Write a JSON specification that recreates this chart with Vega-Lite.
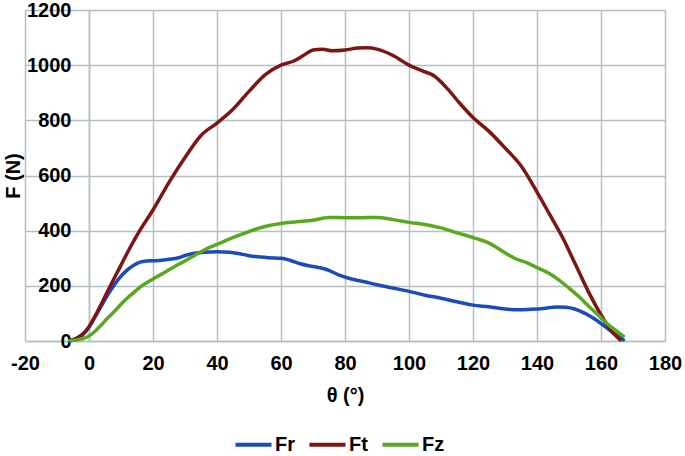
{
  "$schema": "https://vega.github.io/schema/vega-lite/v6.json",
  "width": 640,
  "height": 331,
  "autosize": "none",
  "padding": {"left": 25, "top": 10, "right": 20, "bottom": 115},
  "background": "white",
  "config": {
    "view": {"stroke": null},
    "font": "Liberation Sans"
  },
  "data": {"values": [
    {"s":"Fr","t":-6,"f":0},{"s":"Fr","t":-4,"f":8},{"s":"Fr","t":-2,"f":22},{"s":"Fr","t":0,"f":50},{"s":"Fr","t":2,"f":90},{"s":"Fr","t":4,"f":130},{"s":"Fr","t":6,"f":170},{"s":"Fr","t":8,"f":205},{"s":"Fr","t":10,"f":235},{"s":"Fr","t":12,"f":258},{"s":"Fr","t":14,"f":275},{"s":"Fr","t":16,"f":286},{"s":"Fr","t":18,"f":290},{"s":"Fr","t":20,"f":291},{"s":"Fr","t":22,"f":292},{"s":"Fr","t":25,"f":296},{"s":"Fr","t":28,"f":302},{"s":"Fr","t":30,"f":310},{"s":"Fr","t":33,"f":318},{"s":"Fr","t":36,"f":322},{"s":"Fr","t":40,"f":324},{"s":"Fr","t":44,"f":322},{"s":"Fr","t":48,"f":314},{"s":"Fr","t":52,"f":306},{"s":"Fr","t":56,"f":302},{"s":"Fr","t":60,"f":300},{"s":"Fr","t":63,"f":292},{"s":"Fr","t":66,"f":280},{"s":"Fr","t":70,"f":270},{"s":"Fr","t":74,"f":260},{"s":"Fr","t":78,"f":240},{"s":"Fr","t":82,"f":225},{"s":"Fr","t":86,"f":215},{"s":"Fr","t":90,"f":204},{"s":"Fr","t":95,"f":192},{"s":"Fr","t":100,"f":180},{"s":"Fr","t":105,"f":166},{"s":"Fr","t":110,"f":155},{"s":"Fr","t":115,"f":142},{"s":"Fr","t":120,"f":130},{"s":"Fr","t":125,"f":124},{"s":"Fr","t":130,"f":116},{"s":"Fr","t":134,"f":113},{"s":"Fr","t":138,"f":115},{"s":"Fr","t":142,"f":118},{"s":"Fr","t":146,"f":123},{"s":"Fr","t":149,"f":122},{"s":"Fr","t":152,"f":115},{"s":"Fr","t":155,"f":100},{"s":"Fr","t":158,"f":80},{"s":"Fr","t":161,"f":55},{"s":"Fr","t":164,"f":28},{"s":"Fr","t":167,"f":4},
    {"s":"Ft","t":-6,"f":3},{"s":"Ft","t":-4,"f":10},{"s":"Ft","t":-2,"f":25},{"s":"Ft","t":0,"f":52},{"s":"Ft","t":2,"f":92},{"s":"Ft","t":4,"f":138},{"s":"Ft","t":6,"f":185},{"s":"Ft","t":8,"f":230},{"s":"Ft","t":10,"f":275},{"s":"Ft","t":12,"f":320},{"s":"Ft","t":14,"f":363},{"s":"Ft","t":16,"f":403},{"s":"Ft","t":20,"f":475},{"s":"Ft","t":25,"f":575},{"s":"Ft","t":30,"f":665},{"s":"Ft","t":35,"f":745},{"s":"Ft","t":40,"f":790},{"s":"Ft","t":45,"f":840},{"s":"Ft","t":50,"f":905},{"s":"Ft","t":55,"f":965},{"s":"Ft","t":60,"f":1000},{"s":"Ft","t":64,"f":1015},{"s":"Ft","t":67,"f":1035},{"s":"Ft","t":70,"f":1055},{"s":"Ft","t":73,"f":1058},{"s":"Ft","t":76,"f":1052},{"s":"Ft","t":80,"f":1055},{"s":"Ft","t":84,"f":1062},{"s":"Ft","t":87,"f":1063},{"s":"Ft","t":90,"f":1058},{"s":"Ft","t":95,"f":1035},{"s":"Ft","t":100,"f":1000},{"s":"Ft","t":104,"f":980},{"s":"Ft","t":108,"f":960},{"s":"Ft","t":112,"f":915},{"s":"Ft","t":116,"f":860},{"s":"Ft","t":120,"f":810},{"s":"Ft","t":125,"f":760},{"s":"Ft","t":130,"f":700},{"s":"Ft","t":135,"f":635},{"s":"Ft","t":140,"f":540},{"s":"Ft","t":144,"f":458},{"s":"Ft","t":148,"f":375},{"s":"Ft","t":152,"f":278},{"s":"Ft","t":156,"f":180},{"s":"Ft","t":160,"f":95},{"s":"Ft","t":163,"f":40},{"s":"Ft","t":166,"f":4},
    {"s":"Fz","t":-6,"f":2},{"s":"Fz","t":-4,"f":4},{"s":"Fz","t":-2,"f":8},{"s":"Fz","t":0,"f":18},{"s":"Fz","t":2,"f":36},{"s":"Fz","t":4,"f":60},{"s":"Fz","t":6,"f":85},{"s":"Fz","t":8,"f":108},{"s":"Fz","t":10,"f":133},{"s":"Fz","t":12,"f":156},{"s":"Fz","t":14,"f":176},{"s":"Fz","t":16,"f":195},{"s":"Fz","t":18,"f":211},{"s":"Fz","t":20,"f":225},{"s":"Fz","t":22,"f":238},{"s":"Fz","t":25,"f":258},{"s":"Fz","t":28,"f":278},{"s":"Fz","t":30,"f":290},{"s":"Fz","t":33,"f":310},{"s":"Fz","t":36,"f":330},{"s":"Fz","t":40,"f":350},{"s":"Fz","t":44,"f":370},{"s":"Fz","t":48,"f":388},{"s":"Fz","t":52,"f":405},{"s":"Fz","t":56,"f":418},{"s":"Fz","t":60,"f":426},{"s":"Fz","t":65,"f":432},{"s":"Fz","t":70,"f":438},{"s":"Fz","t":75,"f":448},{"s":"Fz","t":80,"f":447},{"s":"Fz","t":85,"f":447},{"s":"Fz","t":90,"f":448},{"s":"Fz","t":95,"f":440},{"s":"Fz","t":100,"f":430},{"s":"Fz","t":105,"f":422},{"s":"Fz","t":110,"f":410},{"s":"Fz","t":115,"f":392},{"s":"Fz","t":120,"f":375},{"s":"Fz","t":125,"f":355},{"s":"Fz","t":130,"f":320},{"s":"Fz","t":133,"f":300},{"s":"Fz","t":137,"f":283},{"s":"Fz","t":140,"f":266},{"s":"Fz","t":144,"f":244},{"s":"Fz","t":147,"f":220},{"s":"Fz","t":150,"f":192},{"s":"Fz","t":153,"f":162},{"s":"Fz","t":156,"f":128},{"s":"Fz","t":159,"f":95},{"s":"Fz","t":162,"f":62},{"s":"Fz","t":165,"f":35},{"s":"Fz","t":167,"f":18}
  ]},
  "mark": {"type": "line", "interpolate": "monotone", "strokeWidth": 3.5, "strokeCap": "round"},
  "encoding": {
    "x": {
      "field": "t", "type": "quantitative", "title": "θ (°)",
      "scale": {"domain": [-20, 180], "nice": false, "zero": false},
      "axis": {
        "values": [-20, 0, 20, 40, 60, 80, 100, 120, 140, 160, 180],
        "labelExpr": "'' + datum.value",
        "grid": true, "gridColor": "#b4bfbf", "gridWidth": 1.5, "gridOpacity": 1,
        "domain": true, "domainColor": "#b4bfbf", "domainWidth": 1.5,
        "ticks": false, "labelPadding": 12,
        "labelFont": "Liberation Sans", "labelFontSize": 20, "labelFontWeight": "bold", "labelColor": "black",
        "labelFlush": false,
        "titleFont": "Liberation Sans", "titleFontSize": 20, "titleFontWeight": "bold", "titleColor": "black",
        "titlePadding": 12
      }
    },
    "y": {
      "field": "f", "type": "quantitative", "title": "F (N)",
      "scale": {"domain": [0, 1200], "nice": false},
      "axis": {
        "values": [0, 200, 400, 600, 800, 1000, 1200],
        "labelExpr": "'' + datum.value",
        "offset": -64,
        "grid": true, "gridColor": "#b4bfbf", "gridWidth": 1.5, "gridOpacity": 1,
        "domain": true, "domainColor": "#b4bfbf", "domainWidth": 1.5,
        "ticks": false, "labelPadding": 18,
        "labelFont": "Liberation Sans", "labelFontSize": 20, "labelFontWeight": "bold", "labelColor": "black",
        "labelFlush": false,
        "titleFont": "Liberation Sans", "titleFontSize": 20, "titleFontWeight": "bold", "titleColor": "black",
        "titlePadding": 3
      }
    },
    "color": {
      "field": "s", "type": "nominal",
      "scale": {"domain": ["Fr", "Ft", "Fz"], "range": ["#1c4bbb", "#7e1515", "#5aa822"]},
      "legend": {
        "title": null, "orient": "none", "direction": "horizontal",
        "legendX": 208, "legendY": 414,
        "symbolType": "stroke", "symbolSize": 1300, "symbolStrokeWidth": 4,
        "labelFont": "Liberation Sans", "labelFontSize": 20, "labelFontWeight": "bold", "labelColor": "black",
        "labelOffset": 1, "columnPadding": 6
      }
    }
  }
}
